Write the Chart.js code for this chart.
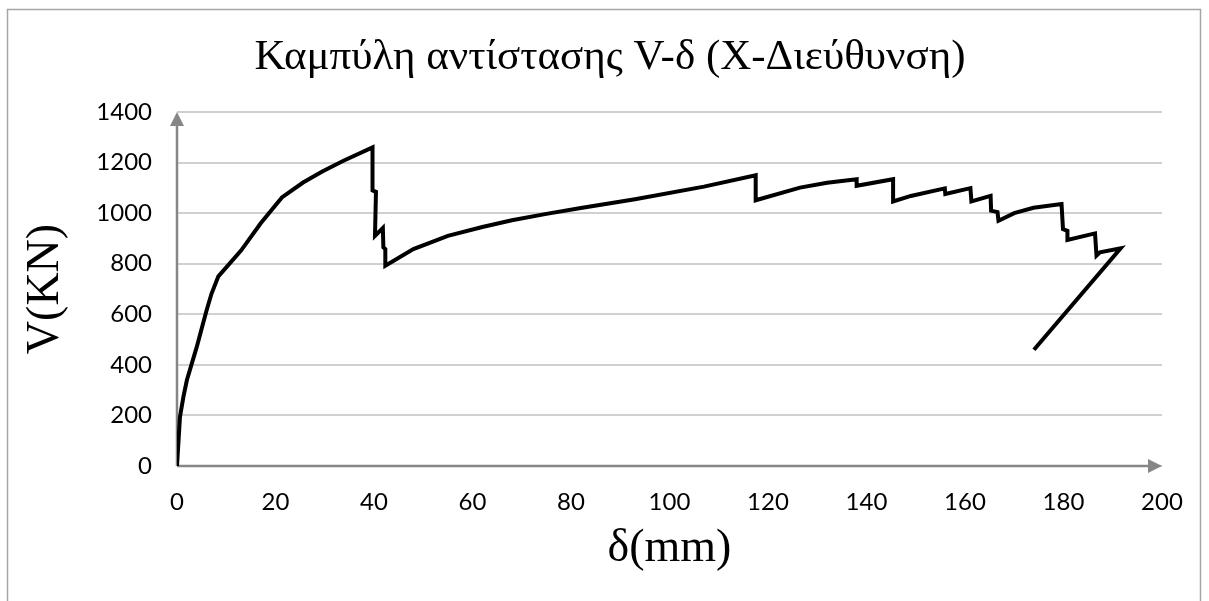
<!DOCTYPE html>
<html>
<head>
<meta charset="utf-8">
<script src="https://cdn.jsdelivr.net/npm/chart.js@4.4.1/dist/chart.umd.min.js"></script>
<style>
  html, body { margin: 0; padding: 0; background: #fff; }
  canvas { display: block; }
</style>
</head>
<body>
<canvas id="chart" width="1209" height="601"></canvas>
<script>

// displacement (mm)
const deltaMm = [
    0, 0.6, 1.3, 2.0, 3.0, 4.0, 5.0, 6.0, 7.0, 8.4,
    13, 17, 21.3, 25.6, 29.5, 33.8, 39.7,
    39.7, 40.4, 40.2, 41.8, 41.9, 42.3, 42.3,
    48, 55, 62, 68, 75, 82, 93, 107, 117.5,
    117.5, 126.5, 132, 138, 138, 145.4, 145.4, 149, 155.9,
    156, 161.1, 161.3, 165.2, 165.3, 166.6, 166.8,
    170, 173.9, 179.6, 179.9, 180.8, 180.8, 186.4, 186.7, 187.4, 191.6,
    174
];

// shear force V (kN)
const shearKN = [
    0, 194, 273, 339, 405, 470, 543, 615, 681, 750,
    852, 960, 1062, 1121, 1165, 1207, 1260,
    1090, 1084, 910, 941, 865, 858, 792,
    858, 910, 945, 972, 997, 1020, 1055, 1105, 1150,
    1051, 1101, 1120, 1134, 1108, 1134, 1046, 1068, 1098,
    1076, 1099, 1046, 1068, 1010, 1004, 970,
    1000, 1021, 1036, 937, 930, 894, 920, 832, 845, 861,
    460
];

const xAxisMax = 200;
const xAxisStep = 20;
const yAxisMax = 1400;
const yAxisStep = 200;

const chartTitle = "Καμπύλη αντίστασης V-δ (X-Διεύθυνση)";
const xTitle = "δ(mm)";
const yTitle = "V(KN)";

const serif = "'Liberation Serif', 'Times New Roman', serif";


// gray axes with arrow heads, plus the outer frame
const axisArrows = {
    id: "axisArrows",

    beforeDraw(chart) {
        const ctx = chart.ctx;
        ctx.save();
        ctx.strokeStyle = "#a6a6a6";
        ctx.lineWidth = 1.5;
        ctx.strokeRect(7.5, 9.5, 1193, 620);
        ctx.restore();
    },

    beforeDatasetsDraw(chart) {
        const ctx = chart.ctx;
        const a = chart.chartArea;
        const head = 14;
        const half = 7;

        ctx.save();
        ctx.strokeStyle = "#868686";
        ctx.fillStyle = "#868686";
        ctx.lineWidth = 2.5;

        ctx.beginPath();
        ctx.moveTo(a.left, a.bottom);
        ctx.lineTo(a.right - head + 1, a.bottom);
        ctx.moveTo(a.left, a.bottom);
        ctx.lineTo(a.left, a.top + head - 1);
        ctx.stroke();

        ctx.beginPath();
        ctx.moveTo(a.right, a.bottom);
        ctx.lineTo(a.right - head, a.bottom - half);
        ctx.lineTo(a.right - head, a.bottom + half);
        ctx.closePath();
        ctx.fill();

        ctx.beginPath();
        ctx.moveTo(a.left, a.top);
        ctx.lineTo(a.left - half, a.top + head);
        ctx.lineTo(a.left + half, a.top + head);
        ctx.closePath();
        ctx.fill();

        ctx.restore();
    }
};


const points = deltaMm.map((x, i) => ({ x: x, y: shearKN[i] }));

const plainNumber = (value) => String(value);

new Chart(
    document.getElementById("chart"),
    {
        type: "scatter",

        data: {
            datasets: [
                {
                    label: "V-δ",
                    data: points,
                    showLine: true,
                    borderColor: "#000",
                    borderWidth: 4,
                    pointRadius: 0,
                    pointHoverRadius: 0,
                    tension: 0,
                    borderJoinStyle: "miter"
                }
            ]
        },

        options: {
            responsive: false,
            animation: false,
            devicePixelRatio: 1,

            layout: {
                padding: { top: 10, left: 11, right: 0, bottom: 0 }
            },

            plugins: {
                legend: { display: false },
                tooltip: { enabled: false },
                title: {
                    display: true,
                    text: chartTitle,
                    color: "#000",
                    font: { family: serif, size: 43, weight: "normal" },
                    padding: { top: 22, bottom: 28.4 }
                }
            },

            scales: {
                x: {
                    type: "linear",
                    min: 0,
                    max: xAxisMax,
                    afterFit(scale) { scale.height = 135; },
                    ticks: {
                        stepSize: xAxisStep,
                        color: "#000",
                        padding: 22,
                        font: { family: "Lato", size: 24 },
                        callback: plainNumber
                    },
                    grid: { display: false, drawTicks: false },
                    border: { display: false },
                    title: {
                        display: true,
                        text: xTitle,
                        color: "#000",
                        font: { family: serif, size: 46 },
                        padding: { top: 0, bottom: 24 }
                    }
                },

                y: {
                    type: "linear",
                    min: 0,
                    max: yAxisMax,
                    afterFit(scale) { scale.width = 166; },
                    ticks: {
                        stepSize: yAxisStep,
                        color: "#000",
                        padding: 25,
                        font: { family: "Lato", size: 24 },
                        callback: plainNumber
                    },
                    grid: { color: "#d0d0d0", lineWidth: 2, drawTicks: false },
                    border: { display: false },
                    title: {
                        display: true,
                        text: yTitle,
                        color: "#000",
                        font: { family: serif, size: 46 },
                        padding: { top: 7.4, bottom: 0 }
                    }
                },

                // empty strip on the right so the plot ends where the reference does
                spacer: {
                    type: "linear",
                    position: "right",
                    display: true,
                    afterFit(scale) { scale.width = 47; },
                    ticks: { display: false },
                    grid: { display: false, drawTicks: false },
                    border: { display: false }
                }
            }
        },

        plugins: [axisArrows]
    }
);

</script>
</body>
</html>
